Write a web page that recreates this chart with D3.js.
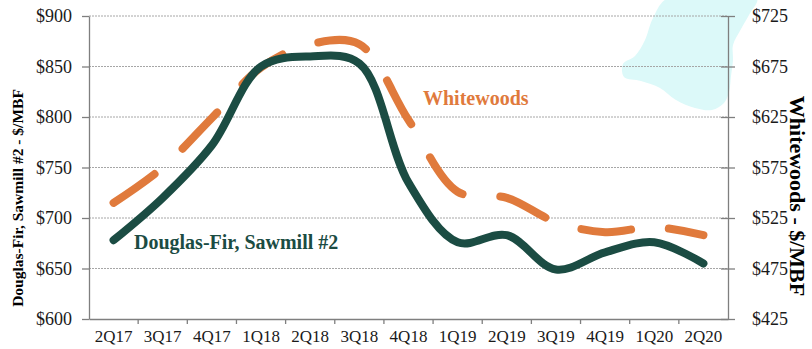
<!DOCTYPE html>
<html>
<head>
<meta charset="utf-8">
<script src="https://cdn.jsdelivr.net/npm/d3@7"></script>
<style>
  body { margin: 0; background: #fff; }
  svg { display: block; }
</style>
</head>
<body>
<div id="chart"></div>
<script>
const canvWidth = 812, canvHeight = 349;

// data
const quarters = ['2Q17', '3Q17', '4Q17', '1Q18', '2Q18', '3Q18', '4Q18',
                  '1Q19', '2Q19', '3Q19', '4Q19', '1Q20', '2Q20'];
const douglasFir = [678, 720, 772, 850, 860, 853, 735, 676, 683, 649, 666, 676, 655];
const whitewoods = [540, 575, 624, 674, 697, 697, 622, 551, 545, 521, 511, 516, 508];
const leftTicks = [600, 650, 700, 750, 800, 850, 900];
const rightTicks = [425, 475, 525, 575, 625, 675, 725];

const plot = {left: 89, right: 728, top: 16, bottom: 319};
const green = '#1b4c43', orange = '#e07a3c';
const serif = '"Palatino Linotype", Palatino, "Book Antiqua", "Liberation Serif", serif';

const svg = d3.select('#chart')
    .append('svg')
    .attr('width', canvWidth)
    .attr('height', canvHeight);

// light cyan decoration in the top right corner
const blob = [[668, -2], [653, 18], [645, 40], [635, 56], [623, 64], [624, 77], [641, 81],
              [660, 88], [676, 100], [695, 108], [712, 110], [724, 103], [729, 92],
              [731, 76], [733, 60], [733, 45], [741, 29], [749, 15], [757, -2]];
svg.append('path')
    .attr('d', d3.line().curve(d3.curveCatmullRomClosed)(blob))
    .attr('fill', '#dcf9f9');

const xScale = d3.scaleBand().domain(quarters).range([plot.left, plot.right]);
const yLeft = d3.scaleLinear().domain([600, 900]).range([plot.bottom, plot.top]);
const yRight = d3.scaleLinear().domain([425, 725]).range([plot.bottom, plot.top]);

// dotted gridlines
svg.append('g')
    .selectAll('line')
    .data(leftTicks.slice(1))
    .enter()
    .append('line')
    .attr('x1', plot.left)
    .attr('x2', plot.right)
    .attr('y1', d => yLeft(d))
    .attr('y2', d => yLeft(d))
    .attr('stroke', '#a6a6a6')
    .attr('stroke-width', 1)
    .attr('stroke-dasharray', '2,1');

// bottom axis: labels centred, ticks on the band edges
const xAxis = svg.append('g')
    .attr('transform', `translate(0,${plot.bottom})`)
    .call(d3.axisBottom(xScale).tickSize(0).tickSizeOuter(0).tickPadding(11));
xAxis.select('.domain').attr('stroke', '#7f7f7f').attr('stroke-width', 1.3);
xAxis.selectAll('text')
    .attr('font-family', serif)
    .attr('font-size', '17px')
    .attr('fill', '#1a1a1a');
xAxis.selectAll('.edge')
    .data(quarters.slice(1))
    .enter()
    .append('line')
    .attr('x1', d => xScale(d))
    .attr('x2', d => xScale(d))
    .attr('y1', 0)
    .attr('y2', 5)
    .attr('stroke', '#7f7f7f')
    .attr('stroke-width', 1.3);

// left axis
const leftAxis = svg.append('g')
    .attr('transform', `translate(${plot.left},0)`)
    .call(d3.axisLeft(yLeft).tickValues(leftTicks).tickSize(7).tickSizeOuter(0)
        .tickPadding(10).tickFormat(d => '$' + d));
leftAxis.selectAll('path, line').attr('stroke', '#7f7f7f').attr('stroke-width', 1.3);
leftAxis.selectAll('text')
    .attr('font-family', serif)
    .attr('font-size', '18px')
    .attr('fill', '#1a1a1a');

// right axis, ticks crossing the line
const rightAxis = svg.append('g')
    .attr('transform', `translate(${plot.right},0)`)
    .call(d3.axisRight(yRight).tickValues(rightTicks).tickSize(7).tickSizeOuter(0)
        .tickPadding(17).tickFormat(d => '$' + d));
rightAxis.selectAll('path, line').attr('stroke', '#7f7f7f').attr('stroke-width', 1.3);
rightAxis.selectAll('.tick line').attr('x1', -7);
rightAxis.selectAll('text')
    .attr('font-family', serif)
    .attr('font-size', '18px')
    .attr('fill', '#1a1a1a');

// axis titles
svg.append('text')
    .attr('transform', 'translate(23,198) rotate(-90)')
    .attr('text-anchor', 'middle')
    .attr('font-family', serif)
    .attr('font-weight', 'bold')
    .attr('font-size', '15.5px')
    .attr('fill', '#000')
    .text('Douglas-Fir, Sawmill #2 - $/MBF');

svg.append('text')
    .attr('transform', 'translate(790,196) rotate(90)')
    .attr('text-anchor', 'middle')
    .attr('font-family', serif)
    .attr('font-weight', 'bold')
    .attr('font-size', '22px')
    .attr('fill', '#000')
    .text('Whitewoods - $/MBF');

// series
const cx = d => xScale(d) + xScale.bandwidth() / 2;

svg.append('path')
    .datum(quarters)
    .attr('d', d3.line()
        .x(d => cx(d))
        .y((d, i) => yRight(whitewoods[i]))
        .curve(d3.curveCatmullRom.alpha(0.5)))
    .attr('fill', 'none')
    .attr('stroke', orange)
    .attr('stroke-width', 8)
    .attr('stroke-linecap', 'round')
    .attr('stroke-dasharray', '50,38');

svg.append('path')
    .datum(quarters)
    .attr('d', d3.line()
        .x(d => cx(d))
        .y((d, i) => yLeft(douglasFir[i]))
        .curve(d3.curveCatmullRom.alpha(0.5)))
    .attr('fill', 'none')
    .attr('stroke', green)
    .attr('stroke-width', 8)
    .attr('stroke-linecap', 'round')
    .attr('stroke-linejoin', 'round');

// series labels
svg.append('text')
    .attr('x', 134)
    .attr('y', 249)
    .attr('font-family', serif)
    .attr('font-weight', 'bold')
    .attr('font-size', '20px')
    .attr('fill', green)
    .text('Douglas-Fir, Sawmill #2');

svg.append('text')
    .attr('x', 423)
    .attr('y', 105)
    .attr('font-family', serif)
    .attr('font-weight', 'bold')
    .attr('font-size', '20px')
    .attr('fill', orange)
    .text('Whitewoods');
</script>
</body>
</html>
